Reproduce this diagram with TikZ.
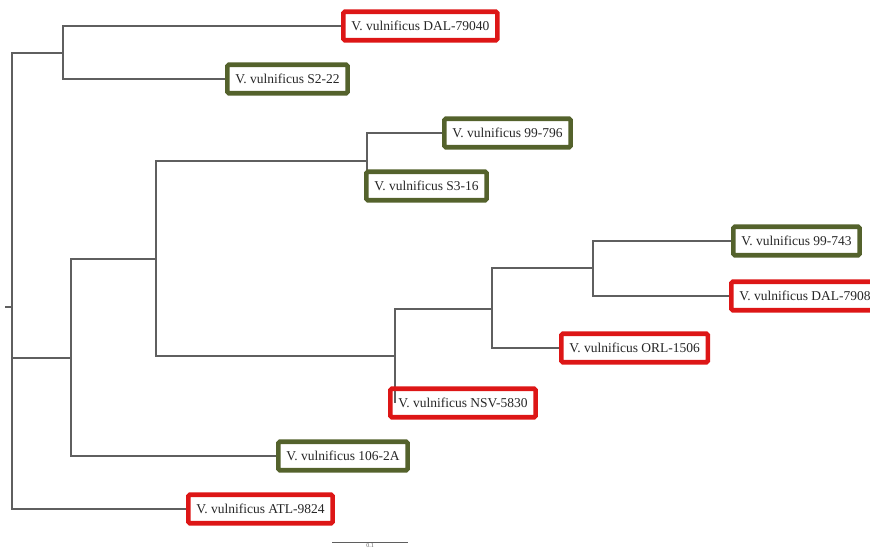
\documentclass[tikz,border=0pt]{standalone}
\usepackage{fontspec}
\setmainfont{Liberation Serif}
\usetikzlibrary{positioning, backgrounds}
\definecolor{vvRed}{RGB}{221,22,22}
\definecolor{vvGreen}{RGB}{84,98,44}
\definecolor{treeGray}{RGB}{95,95,95}

\begin{document}
\begin{tikzpicture}[
    x=1pt, y=-1pt,
    font=\fontsize{13.5}{15}\selectfont,
    strain/.style={draw, line width=4.6pt, rounded corners=1.5pt, anchor=west,
                   minimum height=28.5pt, inner xsep=8pt, inner ysep=2pt, text=black!85},
    clin/.style={strain, draw=vvRed},
    env/.style={strain, draw=vvGreen},
    br/.style={draw=treeGray, line width=1.6pt},
  ]
    \useasboundingbox (0,0) rectangle (870,551);
    \clip (0,0) rectangle (870,551);

    % inner nodes of the tree
    \coordinate (stub) at (5,307);
    \coordinate (root) at (12,307);
    \coordinate (nA) at (63,53);
    \coordinate (nB) at (71,358);
    \coordinate (nC) at (156,259);
    \coordinate (nD) at (367,161);
    \coordinate (nE) at (395,356);
    \coordinate (nF) at (492,309);
    \coordinate (nG) at (593,268);

    % strains
    \node[clin] (dal40) at (341,26) {V. vulnificus DAL-79040};
    \node[env] (s222) at (225,79) {V. vulnificus S2-22};
    \node[env] (s796) at (442,133) {V. vulnificus 99-796};
    \node[env] (s316) at (364,186) {V. vulnificus S3-16};
    \node[env] (s743) at (731,241) {V. vulnificus 99-743};
    \node[clin] (dal87) at (729,296) {V. vulnificus DAL-79087};
    \node[clin] (orl) at (559,348) {V. vulnificus ORL-1506};
    \node[clin] (nsv) at (388,403) {V. vulnificus NSV-5830};
    \node[env] (s106) at (276,456) {V. vulnificus 106-2A};
    \node[clin] (atl) at (186,509) {V. vulnificus ATL-9824};

    \begin{scope}[on background layer]
      \draw[br] (stub) -- (root);
      \draw[br] (root) |- (nA);
      \draw[br] (root) |- (nB);
      \draw[br] (root) |- (atl.west);
      \draw[br] (nA) |- (dal40.west);
      \draw[br] (nA) |- (s222.west);
      \draw[br] (nB) |- (nC);
      \draw[br] (nB) |- (s106.west);
      \draw[br] (nC) |- (nD);
      \draw[br] (nC) |- (nE);
      \draw[br] (nD) |- (s796.west);
      \draw[br] (nD) -- (nD |- s316.west);
      \draw[br] (nE) |- (nF);
      \draw[br] (nE) -- (nE |- nsv.west);
      \draw[br] (nF) |- (nG);
      \draw[br] (nF) |- (orl.west);
      \draw[br] (nG) |- (s743.west);
      \draw[br] (nG) |- (dal87.west);
    \end{scope}

    % scale bar
    \coordinate (sbL) at (332,542);
    \coordinate (sbR) at (408,542);
    \draw[treeGray, line width=1pt] (sbL) -- node[below, inner sep=1pt, font=\fontsize{6}{6}\selectfont, text=treeGray] (sbtxt) {0.1} (sbR);
  \end{tikzpicture}
\end{document}
